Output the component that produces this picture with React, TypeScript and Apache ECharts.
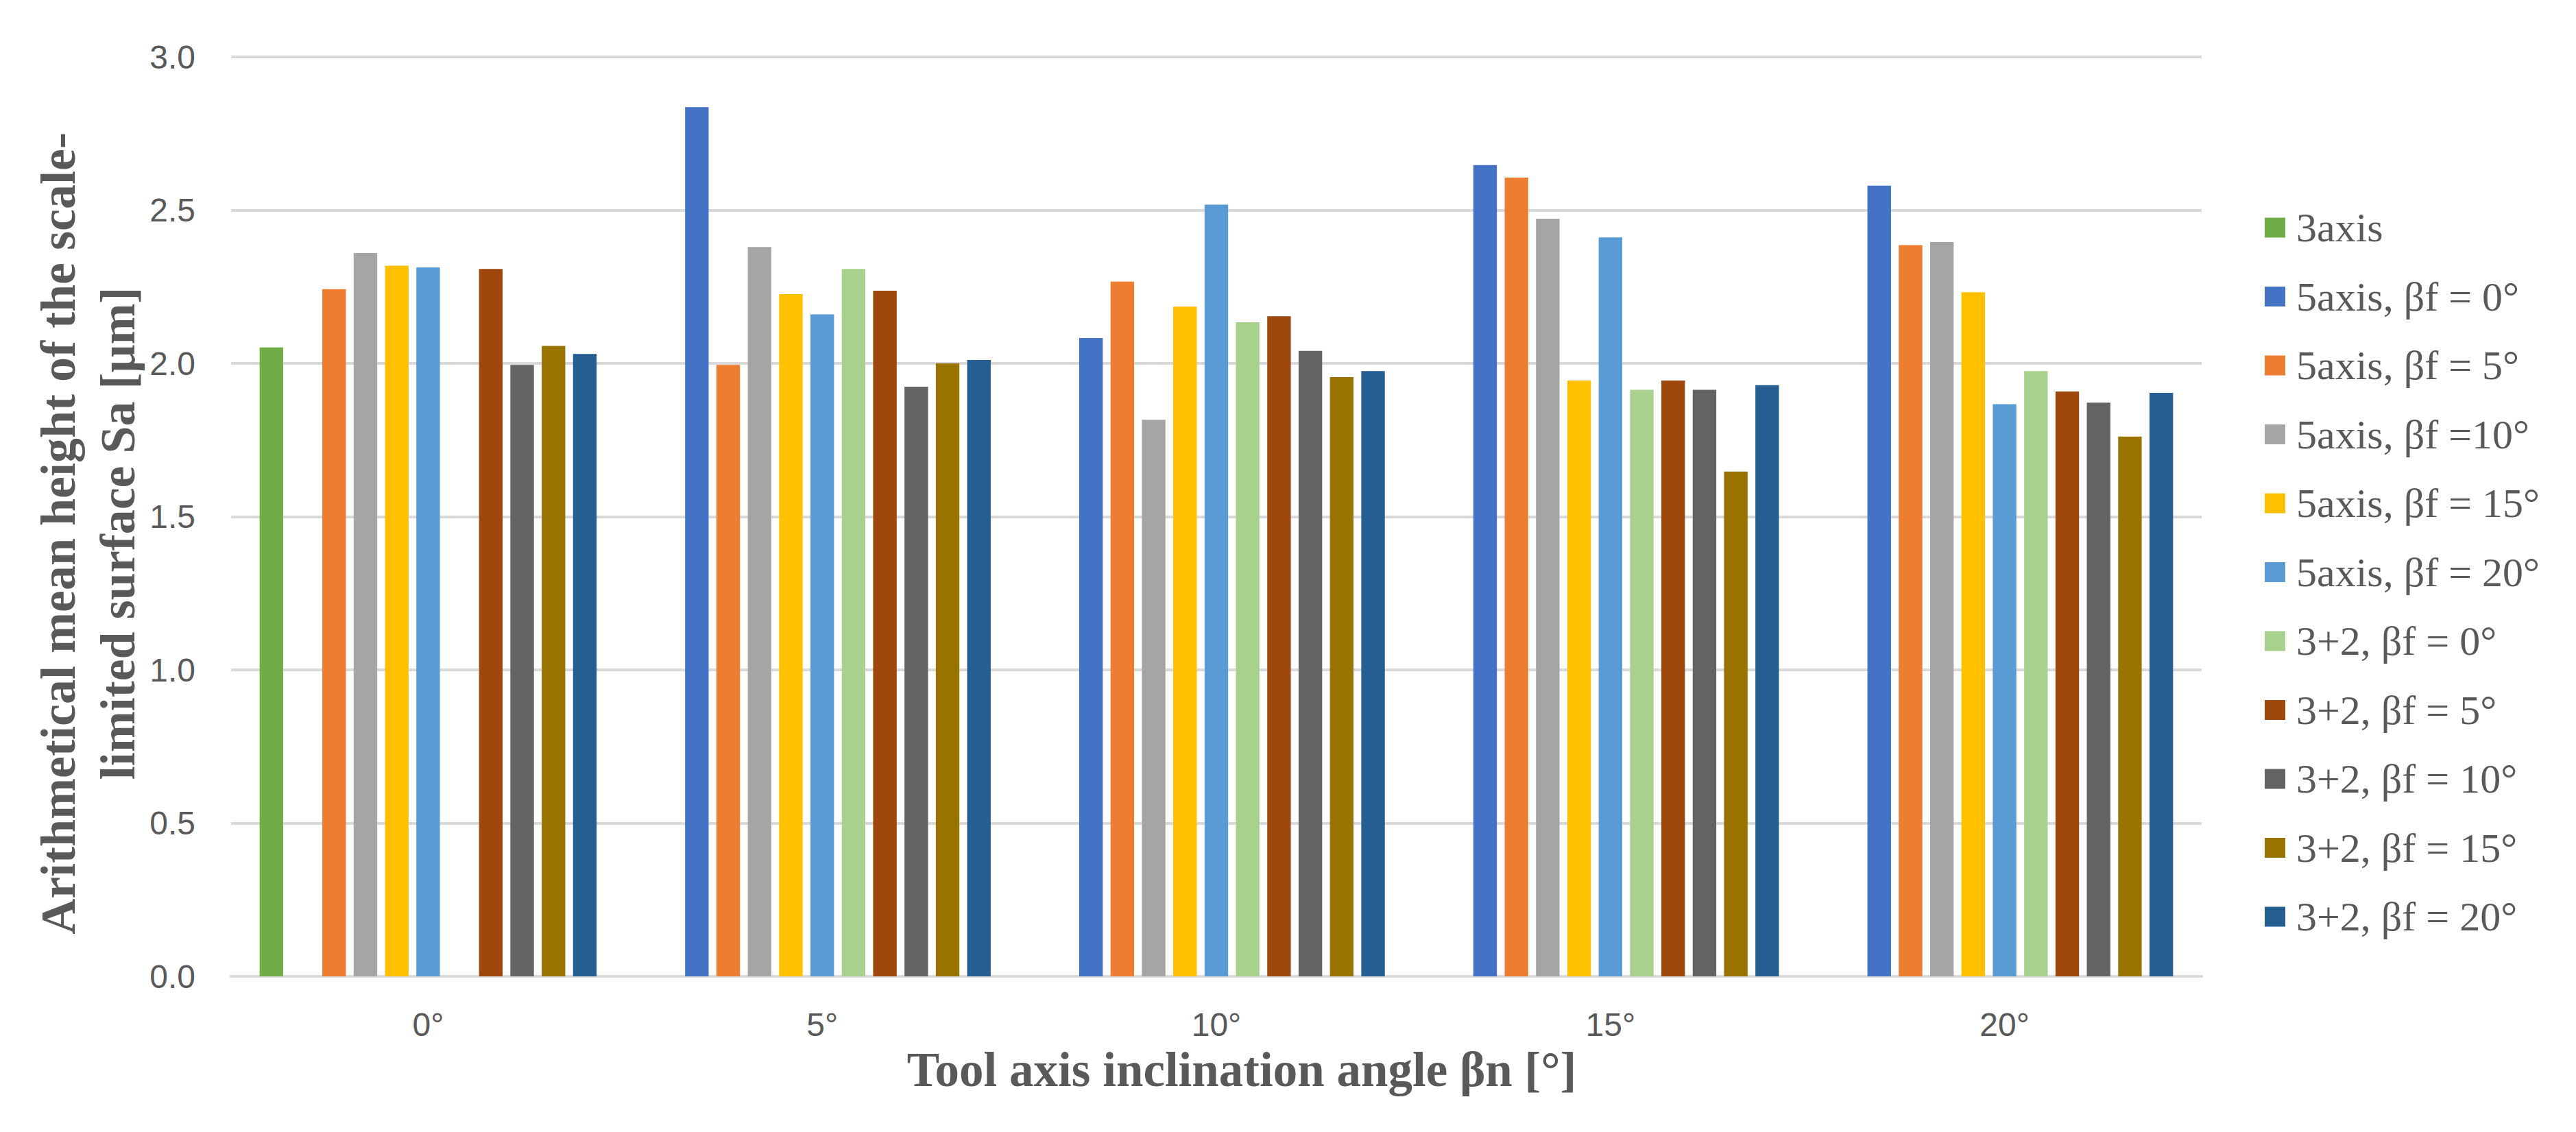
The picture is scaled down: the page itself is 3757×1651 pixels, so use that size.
import React, { useEffect, useRef } from "react";
import * as echarts from "echarts";

const categories = ["0°", "5°", "10°", "15°", "20°"];

const seriesNames = [
  "3axis",
  "5axis, βf = 0°",
  "5axis, βf = 5°",
  "5axis, βf =10°",
  "5axis, βf = 15°",
  "5axis, βf = 20°",
  "3+2, βf = 0°",
  "3+2, βf = 5°",
  "3+2, βf = 10°",
  "3+2, βf = 15°",
  "3+2, βf = 20°",
];

const colors = [
  "#70AD47",
  "#4472C4",
  "#ED7D31",
  "#A5A5A5",
  "#FFC000",
  "#5B9BD5",
  "#A9D18E",
  "#9E480E",
  "#636363",
  "#997300",
  "#255E91",
];

const axis3 = [2.052, null, null, null, null];
const axis5bf0 = [null, 2.836, 2.083, 2.647, 2.58];
const axis5bf5 = [2.242, 1.995, 2.267, 2.606, 2.386];
const axis5bf10 = [2.36, 2.38, 1.816, 2.472, 2.396];
const axis5bf15 = [2.319, 2.226, 2.185, 1.944, 2.232];
const axis5bf20 = [2.313, 2.16, 2.518, 2.411, 1.867];
const p32bf0 = [null, 2.308, 2.134, 1.914, 1.975];
const p32bf5 = [2.308, 2.237, 2.154, 1.944, 1.908];
const p32bf10 = [1.995, 1.924, 2.041, 1.914, 1.872];
const p32bf15 = [2.057, 2.0, 1.955, 1.647, 1.761];
const p32bf20 = [2.031, 2.011, 1.975, 1.929, 1.904];

const yTicks = { min: 0, max: 3, interval: 0.5 };

const xTitle = "Tool axis inclination angle βn [°]";
const yTitle = "Arithmetical mean height of the scale-\nlimited surface Sa [μm]";

const allData = [
  axis3,
  axis5bf0,
  axis5bf5,
  axis5bf10,
  axis5bf15,
  axis5bf20,
  p32bf0,
  p32bf5,
  p32bf10,
  p32bf15,
  p32bf20,
];

const TEXT = "#595959";
const SANS = "'Liberation Sans', Arial, sans-serif";
const SERIF = "'Liberation Serif', 'Times New Roman', serif";

export default function App() {
  const ref = useRef<HTMLDivElement>(null);

  useEffect(() => {
    if (!ref.current) return;
    const chart = echarts.init(ref.current, null, { renderer: "svg" });
    const option = {
      animation: false,
      backgroundColor: "#ffffff",
      color: colors,
      grid: { left: 337, right: 546, top: 83, bottom: 227, containLabel: false },
      legend: {
        orient: "vertical",
        left: 3298,
        top: 297,
        icon: "rect",
        itemWidth: 30,
        itemHeight: 29,
        itemGap: 40.5,
        selectedMode: false,
        data: seriesNames,
        textStyle: {
          fontFamily: SERIF,
          fontSize: 60,
          lineHeight: 60,
          color: TEXT,
          padding: [0, 0, 0, 11],
        },
      },
      xAxis: {
        type: "category",
        data: categories,
        axisTick: { show: false },
        axisLine: { show: true, lineStyle: { color: "#D9D9D9", width: 4 } },
        axisLabel: {
          fontFamily: SANS,
          fontSize: 48,
          lineHeight: 48,
          color: TEXT,
          margin: 46,
        },
      },
      yAxis: {
        type: "value",
        min: yTicks.min,
        max: yTicks.max,
        interval: yTicks.interval,
        axisLine: { show: false },
        axisTick: { show: false },
        splitLine: { show: true, lineStyle: { color: "#D9D9D9", width: 4 } },
        axisLabel: {
          fontFamily: SANS,
          fontSize: 48,
          color: TEXT,
          margin: 52,
          formatter: (v: number) => v.toFixed(1),
        },
      },
      graphic: [
        {
          type: "text",
          x: 1811,
          y: 1560,
          style: {
            text: xTitle,
            fontFamily: SERIF,
            fontWeight: "bold",
            fontSize: 71,
            fill: TEXT,
            textAlign: "center",
            textVerticalAlign: "middle",
          },
        },
        {
          type: "text",
          x: 128,
          y: 778,
          rotation: Math.PI / 2,
          style: {
            text: yTitle,
            fontFamily: SERIF,
            fontWeight: "bold",
            fontSize: 72,
            lineHeight: 87,
            fill: TEXT,
            textAlign: "center",
            textVerticalAlign: "middle",
          },
        },
      ],
      series: seriesNames.map((name, i) => ({
        name,
        type: "bar",
        data: allData[i],
        barGap: "33%",
        barCategoryGap: "14.5%",
        itemStyle: { color: colors[i] },
      })),
    };
    chart.setOption(option);
    return () => chart.dispose();
  }, []);

  return (
    <div
      ref={ref}
      style={{ position: "fixed", left: 0, top: 0, width: 3757, height: 1651 }}
    />
  );
}
